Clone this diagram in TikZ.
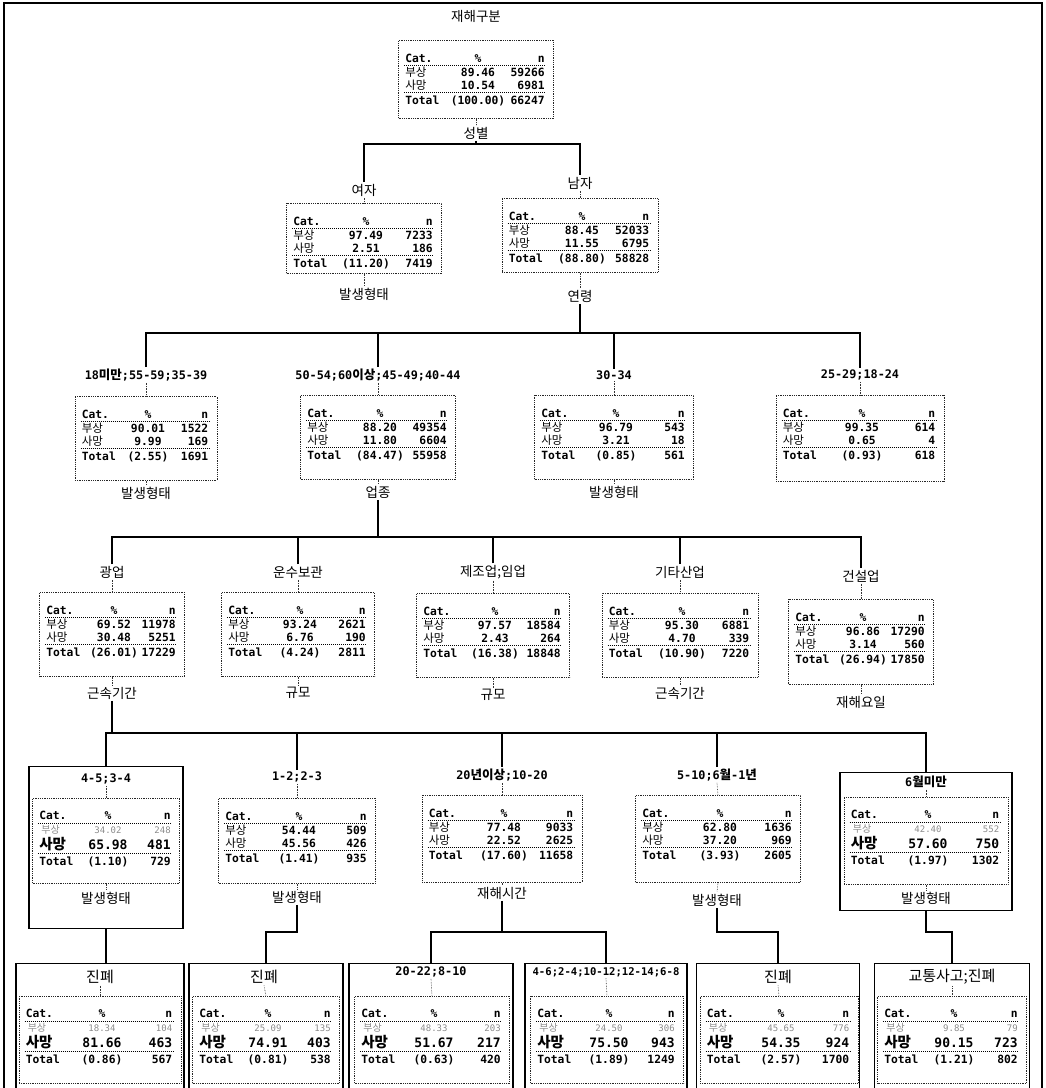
\documentclass[tikz,border=0pt]{standalone}
\usepackage{fontspec}
\setmainfont{DejaVu Sans Mono}
\newfontfamily\kr{Noto Sans CJK KR}
\usetikzlibrary{calc}
\newcommand\K[1]{{\kr\fontsize{12.5}{13}\selectfont #1}}
\tikzset{
  bus/.style={line width=1.7pt, black},
  tie/.style={line width=0.6pt, densely dotted, black!80},
  tbox/.style={draw=black!85, densely dotted, line width=0.8pt, inner sep=0pt, anchor=north},
  obox/.style={draw=black, line width=1.2pt, inner sep=0pt, anchor=north},
  rule/.style={line width=1pt, densely dotted, black},
  cell/.style={font=\bfseries\fontsize{11.3}{12}\selectfont, inner sep=0pt},
  kcell/.style={font=\kr\fontsize{11.5}{12}\selectfont, inner sep=0pt},
  lcell/.style={font=\fontsize{9}{9}\selectfont, text=black!45, inner sep=0pt},
  lkcell/.style={font=\kr\fontsize{10}{10}\selectfont, text=black!45, inner sep=0pt},
  bcell/.style={font=\bfseries\fontsize{13}{13}\selectfont, inner sep=0pt},
  bkcell/.style={font=\kr\bfseries\fontsize{14.5}{15}\selectfont, inner sep=0pt},
  klbl/.style={font=\kr\fontsize{13.5}{14}\selectfont, inner sep=1.5pt},
  mlbl/.style={font=\bfseries\fontsize{11.8}{13}\selectfont, inner sep=1.5pt},
  leaflbl/.style={font=\kr\fontsize{15}{16}\selectfont, inner sep=1.5pt},
}
% standard table rows
\newcommand\trows[7]{%
 \node[cell,anchor=base west] (#1h1) at ($(#1.north west)+(7,22)$) {Cat.};
 \node[cell,anchor=base] (#1h2) at ($(#1.north)+(2,22)$) {\%};
 \node[cell,anchor=base east] (#1h3) at ($(#1.north east)+(-9,22)$) {n};
 \draw[rule] ($(#1.north west)+(6,25.5)$) -- ($(#1.north east)+(-8,25.5)$);
 \node[kcell,anchor=base west] (#1a1) at ($(#1.north west)+(7,36.5)$) {부상};
 \node[cell,anchor=base] (#1a2) at ($(#1.north)+(2,36.5)$) {#2};
 \node[cell,anchor=base east] (#1a3) at ($(#1.north east)+(-9,36.5)$) {#3};
 \node[kcell,anchor=base west] (#1b1) at ($(#1.north west)+(7,49)$) {사망};
 \node[cell,anchor=base] (#1b2) at ($(#1.north)+(2,49)$) {#4};
 \node[cell,anchor=base east] (#1b3) at ($(#1.north east)+(-9,49)$) {#5};
 \draw[rule] ($(#1.north west)+(6,52)$) -- ($(#1.north east)+(-8,52)$);
 \node[cell,anchor=base west] (#1c1) at ($(#1.north west)+(7,64)$) {Total};
 \node[cell,anchor=base] (#1c2) at ($(#1.north)+(2,64)$) {(#6)};
 \node[cell,anchor=base east] (#1c3) at ($(#1.north east)+(-9,64)$) {#7};
}
% terminal table rows (death row highlighted)
\newcommand\trowsT[7]{%
 \node[cell,anchor=base west] (#1h1) at ($(#1.north west)+(7,21)$) {Cat.};
 \node[cell,anchor=base] (#1h2) at ($(#1.north)+(2,21)$) {\%};
 \node[cell,anchor=base east] (#1h3) at ($(#1.north east)+(-9,21)$) {n};
 \draw[rule] ($(#1.north west)+(6,25)$) -- ($(#1.north east)+(-8,25)$);
 \node[lkcell,anchor=base west] (#1a1) at ($(#1.north west)+(9,35)$) {부상};
 \node[lcell,anchor=base] (#1a2) at ($(#1.north)+(2,35)$) {#2};
 \node[lcell,anchor=base east] (#1a3) at ($(#1.north east)+(-9,35)$) {#3};
 \node[bkcell,anchor=base west] (#1b1) at ($(#1.north west)+(7,51)$) {사망};
 \node[bcell,anchor=base] (#1b2) at ($(#1.north)+(2,51)$) {#4};
 \node[bcell,anchor=base east] (#1b3) at ($(#1.north east)+(-9,51)$) {#5};
 \draw[rule] ($(#1.north west)+(6,55)$) -- ($(#1.north east)+(-8,55)$);
 \node[cell,anchor=base west] (#1c1) at ($(#1.north west)+(7,67)$) {Total};
 \node[cell,anchor=base] (#1c2) at ($(#1.north)+(2,67)$) {(#6)};
 \node[cell,anchor=base east] (#1c3) at ($(#1.north east)+(-9,67)$) {#7};
}
\begin{document}
\begin{tikzpicture}[x=1pt,y=-1pt]
\useasboundingbox (0,0) rectangle (1046,1088);
\clip (0,0) rectangle (1046,1088);
\draw[line width=1.4pt] (4,1100) -- (4,3) -- (1042,3) -- (1042,1100);

% ---------- root ----------
\node[klbl] (title) at (476,16) {재해구분};
\node[tbox,minimum width=155,minimum height=78] (root) at (476,40) {};
\trows{root}{89.46}{59266}{10.54}{6981}{100.00}{66247}
\node[klbl] (sroot) at (476,133) {성별};
\draw[tie] (root.south) -- (sroot.north);
\coordinate (b1) at (476,144);
\draw[bus] (sroot.south) -- (b1);

% ---------- level 1 ----------
\node[klbl] (fem) at (364,190) {여자};
\node[tbox,minimum width=155,minimum height=70] (fembox) at (364,203) {};
\trows{fembox}{97.49}{7233}{2.51}{186}{11.20}{7419}
\node[klbl] (fsplit) at (364,294) {발생형태};
\draw[tie] (fem.south) -- (fembox.north);
\draw[tie] (fembox.south) -- (fsplit.north);

\node[klbl] (mal) at (580,183) {남자};
\node[tbox,minimum width=156,minimum height=74] (malbox) at (580,198) {};
\trows{malbox}{88.45}{52033}{11.55}{6795}{88.80}{58828}
\node[klbl] (msplit) at (580,296) {연령};
\draw[tie] (mal.south) -- (malbox.north);
\draw[tie] (malbox.south) -- (msplit.north);
\draw[bus] (fem.north) |- (b1) -| (mal.north);

% ---------- level 2 ----------
\coordinate (b2) at (580,333);
\draw[bus] (msplit.south) -- (b2);

\node[mlbl] (a18) at (146,375) {18\K{미만};55-59;35-39};
\node[tbox,minimum width=142,minimum height=84] (n18) at (146,396) {};
\trows{n18}{90.01}{1522}{9.99}{169}{2.55}{1691}
\node[klbl] (s18) at (146,493) {발생형태};

\node[mlbl] (a50) at (378,375) {50-54;60\K{이상};45-49;40-44};
\node[tbox,minimum width=155,minimum height=84] (n50) at (378,395) {};
\trows{n50}{88.20}{49354}{11.80}{6604}{84.47}{55958}
\node[klbl] (s50) at (378,492) {업종};

\node[mlbl] (a30) at (614,375) {30-34};
\node[tbox,minimum width=159,minimum height=84] (n30) at (614,395) {};
\trows{n30}{96.79}{543}{3.21}{18}{0.85}{561}
\node[klbl] (s30) at (614,492) {발생형태};

\node[mlbl] (a25) at (860,375) {25-29;18-24};
\node[tbox,minimum width=168,minimum height=86] (n25) at (860,395) {};
\trows{n25}{99.35}{614}{0.65}{4}{0.93}{618}

\foreach \a/\n in {a18/n18,a50/n50,a30/n30,a25/n25}{
  \draw[tie] (\a.south) -- (\n.north);}
\foreach \n/\s in {n18/s18,n50/s50,n30/s30}{
  \draw[tie] (\n.south) -- (\s.north);}
\draw[bus] (a18.north) |- (b2) -| (a25.north);
\draw[bus] (a50.north) |- (b2);
\draw[bus] (a30.north) |- (b2);

% ---------- level 3 ----------
\coordinate (b3) at (378,537);
\draw[bus] (s50.south) -- (b3);

\node[klbl] (c1) at (112,572) {광업};
\node[tbox,minimum width=145,minimum height=84] (m1) at (112,592) {};
\trows{m1}{69.52}{11978}{30.48}{5251}{26.01}{17229}
\node[klbl] (sm1) at (112,693) {근속기간};

\node[klbl] (c2) at (298,572) {운수보관};
\node[tbox,minimum width=153,minimum height=84] (m2) at (298,592) {};
\trows{m2}{93.24}{2621}{6.76}{190}{4.24}{2811}
\node[klbl] (sm2) at (298,693) {규모};

\node[klbl] (c3) at (493,572) {제조업;임업};
\node[tbox,minimum width=153,minimum height=84] (m3) at (493,593) {};
\trows{m3}{97.57}{18584}{2.43}{264}{16.38}{18848}
\node[klbl] (sm3) at (493,695) {규모};

\node[klbl] (c4) at (680,572) {기타산업};
\node[tbox,minimum width=156,minimum height=84] (m4) at (680,593) {};
\trows{m4}{95.30}{6881}{4.70}{339}{10.90}{7220}
\node[klbl] (sm4) at (680,693) {근속기간};

\node[klbl] (c5) at (861,576) {건설업};
\node[tbox,minimum width=145,minimum height=85] (m5) at (861,599) {};
\trows{m5}{96.86}{17290}{3.14}{560}{26.94}{17850}
\node[klbl] (sm5) at (861,702) {재해요일};

\foreach \c/\m/\s in {c1/m1/sm1,c2/m2/sm2,c3/m3/sm3,c4/m4/sm4,c5/m5/sm5}{
  \draw[tie] (\c.south) -- (\m.north);
  \draw[tie] (\m.south) -- (\s.north);}
\draw[bus] (c1.north) |- (b3) -| (c5.north);
\draw[bus] (c2.north) |- (b3);
\draw[bus] (c3.north) |- (b3);
\draw[bus] (c4.north) |- (b3);

% ---------- level 4 ----------
\coordinate (b4) at (112,733);
\draw[bus] (sm1.south) -- (b4);

\node[obox,minimum width=154,minimum height=162] (d1o) at (106,766) {};
\node[mlbl] (d1lab) at (106,779) {4-5;3-4};
\node[tbox,minimum width=147,minimum height=85] (d1) at (106,798) {};
\trowsT{d1}{34.02}{248}{65.98}{481}{1.10}{729}
\node[klbl] (d1s) at (106,898) {발생형태};

\node[mlbl] (d2lab) at (297,777) {1-2;2-3};
\node[tbox,minimum width=157,minimum height=85] (d2) at (297,798) {};
\trows{d2}{54.44}{509}{45.56}{426}{1.41}{935}
\node[klbl] (d2s) at (297,897) {발생형태};

\node[mlbl] (d3lab) at (502,775) {20\K{년이상};10-20};
\node[tbox,minimum width=160,minimum height=87] (d3) at (502,795) {};
\trows{d3}{77.48}{9033}{22.52}{2625}{17.60}{11658}
\node[klbl] (d3s) at (502,893) {재해시간};

\node[mlbl] (d4lab) at (717,775) {5-10;6\K{월}-1\K{년}};
\node[tbox,minimum width=165,minimum height=87] (d4) at (718,795) {};
\trows{d4}{62.80}{1636}{37.20}{969}{3.93}{2605}
\node[klbl] (d4s) at (717,900) {발생형태};

\node[obox,minimum width=172,minimum height=138] (d5o) at (926,772) {};
\node[mlbl] (d5lab) at (926,782) {6\K{월미만}};
\node[tbox,minimum width=164,minimum height=87] (d5) at (926,797) {};
\trowsT{d5}{42.40}{552}{57.60}{750}{1.97}{1302}
\node[klbl] (d5s) at (926,898) {발생형태};

\foreach \l/\d/\s in {d1lab/d1/d1s,d2lab/d2/d2s,d3lab/d3/d3s,d4lab/d4/d4s,d5lab/d5/d5s}{
  \draw[tie] (\l.south) -- (\d.north);
  \draw[tie] (\d.south) -- (\s.north);}
\draw[bus] (d1o.north) |- (b4) -| (d5o.north);
\draw[bus] (d2lab.north) |- (b4);
\draw[bus] (d3lab.north) |- (b4);
\draw[bus] (d4lab.north) |- (b4);

% ---------- level 5 (leaves) ----------
\node[obox,minimum width=168,minimum height=145] (e1o) at (100,963) {};
\node[leaflbl] (e1lab) at (100,977) {진폐};
\node[tbox,minimum width=162,minimum height=87] (e1) at (100,996) {};
\trowsT{e1}{18.34}{104}{81.66}{463}{0.86}{567}

\node[obox,minimum width=154,minimum height=145] (e2o) at (266,963) {};
\node[leaflbl] (e2lab) at (264,977) {진폐};
\node[tbox,minimum width=147,minimum height=87] (e2) at (266,996) {};
\trowsT{e2}{25.09}{135}{74.91}{403}{0.81}{538}

\node[obox,minimum width=164,minimum height=145] (e3o) at (431,963) {};
\node[mlbl] (e3lab) at (431,972) {20-22;8-10};
\node[tbox,minimum width=155,minimum height=87] (e3) at (432,996) {};
\trowsT{e3}{48.33}{203}{51.67}{217}{0.63}{420}

\node[obox,minimum width=162,minimum height=145] (e4o) at (606,963) {};
\node[mlbl,font=\bfseries\fontsize{10.6}{12}\selectfont] (e4lab) at (606,972) {4-6;2-4;10-12;12-14;6-8};
\node[tbox,minimum width=153,minimum height=87] (e4) at (607,996) {};
\trowsT{e4}{24.50}{306}{75.50}{943}{1.89}{1249}

\node[obox,minimum width=163,minimum height=145] (e5o) at (778,963) {};
\node[leaflbl] (e5lab) at (778,977) {진폐};
\node[tbox,minimum width=158,minimum height=87] (e5) at (779,996) {};
\trowsT{e5}{45.65}{776}{54.35}{924}{2.57}{1700}

\node[obox,minimum width=155,minimum height=145] (e6o) at (952,963) {};
\node[leaflbl] (e6lab) at (952,977) {교통사고;진폐};
\node[tbox,minimum width=149,minimum height=87] (e6) at (952,996) {};
\trowsT{e6}{9.85}{79}{90.15}{723}{1.21}{802}

\foreach \l/\e in {e1lab/e1,e2lab/e2,e3lab/e3,e4lab/e4,e5lab/e5,e6lab/e6}{
  \draw[tie] (\l.south) -- (\e.north);}

\coordinate (j2) at (297,932);
\coordinate (j3) at (502,932);
\coordinate (j5) at (717,932);
\coordinate (j6) at (926,932);
\draw[bus] (d1o.south) -- (d1o.south |- e1o.north);
\draw[bus] (d2s.south) -- (j2) -| (e2o.north);
\draw[bus] (d3s.south) -- (j3);
\draw[bus] (e3o.north) |- (j3) -| (e4o.north);
\draw[bus] (d4s.south) -- (j5) -| (e5o.north);
\draw[bus] (d5o.south) -- (j6) -| (e6o.north);
\end{tikzpicture}
\end{document}
